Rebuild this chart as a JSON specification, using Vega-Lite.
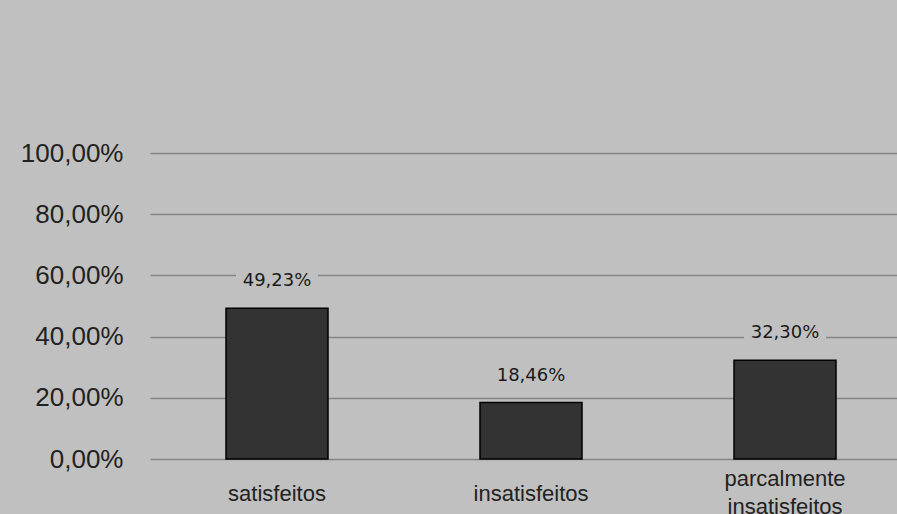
{
  "$schema": "https://vega.github.io/schema/vega-lite/v6.json",
  "autosize": {"type": "none"},
  "width": 762,
  "height": 306,
  "padding": {"left": 150, "top": 153, "right": 0, "bottom": 55},
  "background": "#c0c0c0",
  "config": {"view": {"stroke": null}},
  "data": {"values": [
    {"categoria": "satisfeitos", "valor": 0.4923, "rotulo": "49,23%"},
    {"categoria": "insatisfeitos", "valor": 0.1846, "rotulo": "18,46%"},
    {"categoria": "parcalmente insatisfeitos", "valor": 0.323, "rotulo": "32,30%"}
  ]},
  "encoding": {
    "x": {
      "field": "categoria", "type": "nominal", "sort": null,
      "scale": {"paddingInner": 0.6, "paddingOuter": 0.3},
      "axis": {
        "title": null, "labelAngle": 0, "domain": false, "ticks": false, "grid": false,
        "labelFont": "Liberation Sans", "labelFontSize": 22, "labelColor": "#222222",
        "labelBaseline": "middle", "labelLineHeight": 28,
        "labelPadding": {"condition": {"test": "indexof(datum.value, ' ') >= 0", "value": 19}, "value": 34},
        "labelExpr": "split(datum.label, ' ')"
      }
    },
    "y": {
      "field": "valor", "type": "quantitative",
      "scale": {"domain": [0, 1], "nice": false},
      "axis": {
        "title": null, "values": [0, 0.2, 0.4, 0.6, 0.8, 1],
        "labelExpr": "replace(format(datum.value * 100, '.2f'), '.', ',') + '%'",
        "domain": false, "ticks": false, "labelPadding": 27,
        "labelFont": "Liberation Sans", "labelFontSize": 26, "labelColor": "#222222",
        "gridColor": "#858585", "gridWidth": 1.5, "gridOpacity": 1
      }
    }
  },
  "layer": [
    {"mark": {"type": "bar", "fill": "#333333", "stroke": "#000000", "strokeWidth": 1.5, "width": 102}},
    {
      "mark": {"type": "point", "shape": "M -1 -0.27 H 1 V 0.27 H -1 Z", "size": 6724, "filled": true, "fill": "#c0c0c0", "opacity": 1, "strokeWidth": 0, "yOffset": -27},
      "encoding": {}
    },
    {
      "mark": {"type": "text", "font": "DejaVu Sans", "fontSize": 18, "color": "#1a1a1a", "baseline": "middle", "dy": -27},
      "encoding": {"text": {"field": "rotulo"}}
    }
  ]
}
